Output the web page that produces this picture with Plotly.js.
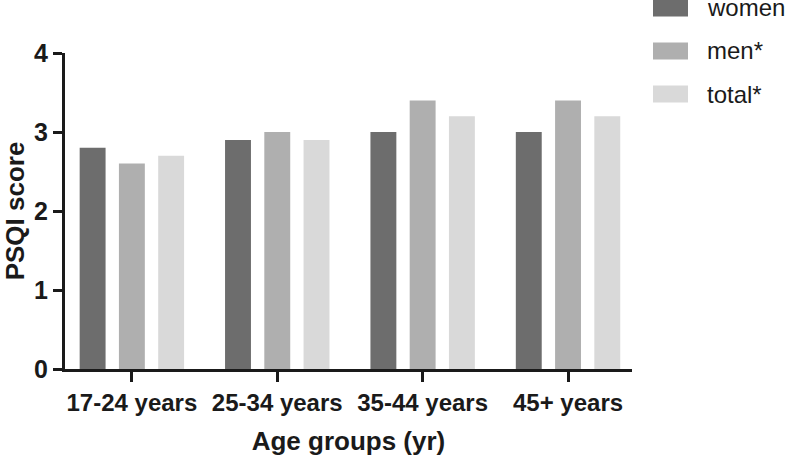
<!DOCTYPE html>
<html>
<head>
<meta charset="utf-8">
<script src="https://cdn.plot.ly/plotly-3.0.1.min.js"></script>
<style>html,body{margin:0;padding:0;background:#fff;}#chart{width:787px;height:467px;}</style>
</head>
<body>
<div id="chart"></div>
<script>
const categories = ["17-24 years", "25-34 years", "35-44 years", "45+ years"];
const seriesNames = ["women", "men*", "total*"];
const women = [2.8, 2.9, 3.0, 3.0];
const men = [2.6, 3.0, 3.4, 3.4];
const total = [2.7, 2.9, 3.2, 3.2];
const yTicks = [0, 1, 2, 3, 4];
const colors = ["#6d6d6d", "#afafaf", "#d9d9d9"];

const seriesValues = [women, men, total];
const traces = seriesValues.map((vals, i) => ({
  type: "bar",
  name: seriesNames[i],
  x: categories,
  y: vals,
  marker: {color: colors[i], line: {width: 0}},
  showlegend: false,
  hoverinfo: "skip"
}));

const font = "Liberation Sans, Arial, Helvetica, sans-serif";

// custom legend (swatches + labels) in paper coordinates
const shapes = [];
const annotations = [];
const legX0 = 653, legX1 = 688;
const rowsY = [8, 51, 94];
const plotL = 65, plotR = 632, plotT = 53, plotB = 369;
const pw = plotR - plotL, ph = plotB - plotT;
function px2x(px) { return (px - plotL) / pw; }
function py2y(py) { return (plotB - py) / ph; }
seriesNames.forEach((n, i) => {
  shapes.push({
    type: "rect", xref: "paper", yref: "paper",
    x0: px2x(legX0), x1: px2x(legX1),
    y0: py2y(rowsY[i] + 8.5), y1: py2y(rowsY[i] - 8.5),
    fillcolor: colors[i], line: {width: 0}
  });
  annotations.push({
    xref: "paper", yref: "paper",
    x: px2x(705), y: py2y(rowsY[i]),
    xanchor: "left", yanchor: "middle",
    text: n, showarrow: false,
    font: {family: font, size: 24, color: "#1a1a1a"}
  });
});

const layout = {
  width: 787, height: 467,
  margin: {l: plotL, r: 787 - plotR, t: plotT, b: 467 - plotB, pad: 0},
  paper_bgcolor: "#ffffff",
  plot_bgcolor: "#ffffff",
  barmode: "group",
  bargap: 0.19,
  bargroupgap: 0.34,
  font: {family: font, color: "#1a1a1a"},
  xaxis: {
    range: [-0.46, 3.44],
    showline: true, linecolor: "#1a1a1a", linewidth: 3,
    ticks: "outside", ticklen: 10, tickwidth: 3, tickcolor: "#1a1a1a",
    showgrid: false, zeroline: false,
    tickfont: {family: font, size: 24, color: "#1a1a1a", weight: "bold"},
    title: {text: "<b>Age groups (yr)</b>", font: {family: font, size: 26, color: "#1a1a1a"}, standoff: 18},
    automargin: false, fixedrange: true
  },
  yaxis: {
    range: [0, 4],
    tickvals: yTicks,
    ticktext: yTicks.map(String),
    showline: true, linecolor: "#1a1a1a", linewidth: 3,
    ticks: "outside", ticklen: 9, tickwidth: 3, tickcolor: "#1a1a1a",
    showgrid: false, zeroline: false,
    tickfont: {family: font, size: 25, color: "#1a1a1a", weight: "bold"},
    title: {text: "<b>PSQI score</b>", font: {family: font, size: 26, color: "#1a1a1a"}, standoff: 6},
    automargin: false, fixedrange: true
  },
  shapes: shapes,
  annotations: annotations
};

Plotly.newPlot("chart", traces, layout, {displayModeBar: false, staticPlot: true});
</script>
</body>
</html>
